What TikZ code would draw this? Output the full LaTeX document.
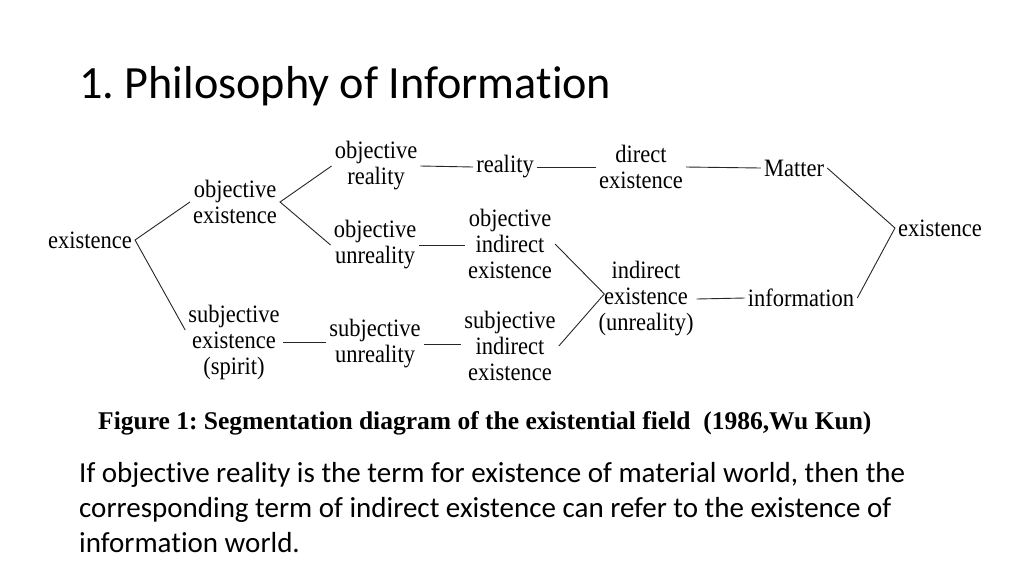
\documentclass[tikz,border=0pt]{standalone}
\usepackage{fontspec}
\usepackage{tikz}
\setmainfont{Liberation Serif}
\newfontfamily\diagfont[FakeStretch=0.9]{Liberation Serif}
\newfontfamily\slidefont[Ligatures=NoCommon]{Carlito}
\frenchspacing
\tikzstyle{term} = [inner sep=3pt, align=center, font=\diagfont\fontsize{25}{26}\selectfont]
\tikzstyle{link} = [line width=0.9pt, black!85]

\begin{document}
\begin{tikzpicture}[x=1pt, y=-1pt]
    \useasboundingbox (0,0) rectangle (1024,576);
    \fill[white] (0,0) rectangle (1024,576);
    % title and text
    \node[anchor=base west, inner sep=0pt, font=\slidefont\fontsize{46.2}{54}\selectfont] (title) at (79,98) {1. Philosophy of Information};
    \node[anchor=base west, inner sep=0pt, font=\bfseries\fontsize{25.5}{30}\selectfont] (caption) at (98,429) {Figure 1: Segmentation diagram of the existential field\ \ (1986,Wu Kun)};
    \node[anchor=base west, inner sep=0pt, font=\slidefont\fontsize{29}{35}\selectfont] (line1) at (79,482) {If objective reality is the term for existence of material world, then the};
    \node[anchor=base west, inner sep=0pt, font=\slidefont\fontsize{29}{35}\selectfont] (line2) at (79,517) {corresponding term of indirect existence can refer to the existence of};
    \node[anchor=base west, inner sep=0pt, font=\slidefont\fontsize{29}{35}\selectfont] (line3) at (79,552) {information world.};
    % terms
    \node[term] (ex) at (90,240) {existence};
    \node[term] (oe) at (235,202) {objective\\existence};
    \node[term] (se) at (234,342) {subjective\\existence\\(spirit)};
    \node[term] (or) at (376,166) {objective\\reality};
    \node[term] (ou) at (375,245) {objective\\unreality};
    \node[term] (su) at (375,344) {subjective\\unreality};
    \node[term] (re) at (505,167) {reality};
    \node[term] (de) at (641,167) {direct\\existence};
    \node[term] (ma) at (794,168) {Matter};
    \node[term] (oie) at (510,244) {objective\\indirect\\existence};
    \node[term] (sie) at (510,346) {subjective\\indirect\\existence};
    \node[term] (ie) at (646,299) {indirect\\existence\\(unreality)};
    \node[term] (info) at (801,298) {information};
    \node[term] (exr) at (940,228) {existence};
    \coordinate (ieV) at ([xshift=9pt, yshift=5pt]ie.west);
    % links
    \draw[link] (oe.west) -- (ex.east) -- ([yshift=12pt]se.west);
    \draw[link] (or.west) -- (oe.east) -- (ou.west);
    \draw[link] (or.east) -- (re.west);
    \draw[link] (re.east) -- (de.west);
    \draw[link] (de.east) -- (ma.west);
    \draw[link] (ou.east) -- (ou.east -| oie.west);
    \draw[link] (se.east) -- (se.east -| su.west);
    \draw[link] (su.east) -- (su.east -| sie.west);
    \draw[link] (oie.east) -- (ieV) -- (sie.east);
    \draw[link] (ie.east) -- (info.west);
    \draw[link] (ma.east) -- (exr.west) -- (info.east);
\end{tikzpicture}
\end{document}
